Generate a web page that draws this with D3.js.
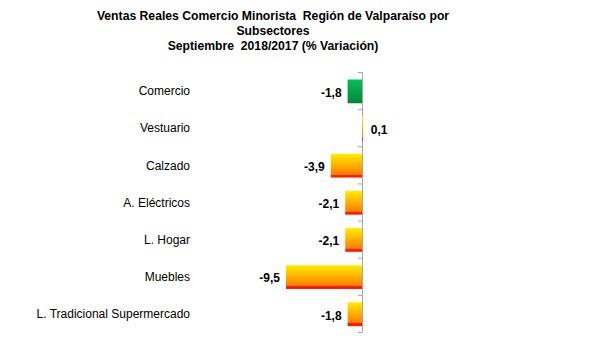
<!DOCTYPE html>
<html>
<head>
<meta charset="utf-8">
<script src="https://cdn.jsdelivr.net/npm/d3@7"></script>
<style>
  html, body { margin: 0; padding: 0; background: #fff; }
  svg { display: block; font-family: "Liberation Sans", Arial, sans-serif; }
  text { white-space: pre; }
</style>
</head>
<body>
<svg id="chart" width="589" height="340"></svg>
<script>
// Subsectores y variación % (Septiembre 2018/2017)
const categories = ["Comercio", "Vestuario", "Calzado", "A. Eléctricos", "L. Hogar", "Muebles", "L. Tradicional Supermercado"];
const values = [-1.8, 0.1, -3.9, -2.1, -2.1, -9.5, -1.8];
const labels = ["-1,8", "0,1", "-3,9", "-2,1", "-2,1", "-9,5", "-1,8"];
const titleLines = ["Ventas Reales Comercio Minorista  Región de Valparaíso por", "Subsectores", "Septiembre  2018/2017 (% Variación)"];

const svg = d3.select("#chart");
const data = categories.map((c, i) => ({ cat: c, value: values[i], label: labels[i] }));

// Gradients for the bars
const defs = svg.append("defs");
const orange = defs.append("linearGradient").attr("id", "gOrange").attr("x1", 0).attr("y1", 0).attr("x2", 0).attr("y2", 1);
orange.append("stop").attr("offset", "0%").attr("stop-color", "#ffee00");
orange.append("stop").attr("offset", "88%").attr("stop-color", "#ff7a00");
orange.append("stop").attr("offset", "88%").attr("stop-color", "#ff1a00");
orange.append("stop").attr("offset", "100%").attr("stop-color", "#ff1a00");
const green = defs.append("linearGradient").attr("id", "gGreen").attr("x1", 0).attr("y1", 0).attr("x2", 0).attr("y2", 1);
green.append("stop").attr("offset", "0%").attr("stop-color", "#00c257");
green.append("stop").attr("offset", "100%").attr("stop-color", "#00843a");

// Scales
const x = d3.scaleLinear().domain([-10, 2]).range([282, 378]);
const y = d3.scaleBand().domain(categories).range([72, 332]).paddingInner(0.36).paddingOuter(0.18);
const bandStep = y.step();

// Title
svg.append("g").selectAll("text").data(titleLines).join("text")
  .attr("x", 273).attr("y", (d, i) => 20 + i * 15)
  .attr("text-anchor", "middle")
  .style("font-size", "12.2px").style("font-weight", "bold").attr("fill", "#000")
  .text(d => d);

// Vertical axis at zero with ticks between categories
const axisG = svg.append("g");
axisG.append("line")
  .attr("x1", x(0) + 0.5).attr("x2", x(0) + 0.5)
  .attr("y1", 72).attr("y2", 332)
  .attr("stroke", "#a6a6a6").attr("stroke-width", 1);
axisG.selectAll("line.tick").data(d3.range(categories.length + 1)).join("line")
  .attr("class", "tick")
  .attr("x1", x(0) - 4).attr("x2", x(0) + 0.5)
  .attr("y1", i => 72 + i * bandStep + 0.5).attr("y2", i => 72 + i * bandStep + 0.5)
  .attr("stroke", "#a6a6a6").attr("stroke-width", 1);

// Bars
svg.append("g").selectAll("rect").data(data).join("rect")
  .attr("x", d => x(Math.min(0, d.value)))
  .attr("y", d => y(d.cat) + 0.8)
  .attr("width", d => Math.max(1, Math.abs(x(d.value) - x(0))))
  .attr("height", y.bandwidth())
  .attr("fill", d => d.cat === "Comercio" ? "url(#gGreen)" : "url(#gOrange)");

// Category labels
svg.append("g").selectAll("text").data(data).join("text")
  .attr("x", 190)
  .attr("y", d => y(d.cat) + y.bandwidth() / 2 + 0.5)
  .attr("dy", "0.35em")
  .attr("text-anchor", "end")
  .style("font-size", "12px").attr("fill", "#000")
  .text(d => d.cat);

// Value labels
svg.append("g").selectAll("text").data(data).join("text")
  .attr("x", d => d.value < 0 ? x(d.value) - 6 : x(d.value) + 8)
  .attr("y", d => y(d.cat) + y.bandwidth() / 2 + 2)
  .attr("dy", "0.35em")
  .attr("text-anchor", d => d.value < 0 ? "end" : "start")
  .style("font-size", "12px").style("font-weight", "bold").attr("fill", "#000")
  .text(d => d.label);
</script>
</body>
</html>
